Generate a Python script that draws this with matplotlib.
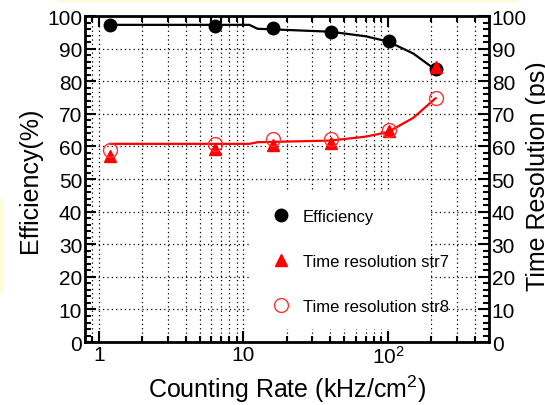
import numpy as np
import matplotlib
matplotlib.use("Agg")
import matplotlib.pyplot as plt
from matplotlib.patches import Rectangle
from matplotlib.ticker import FixedLocator, LogLocator, MultipleLocator, NullFormatter

plt.rcParams["font.family"] = ["Liberation Sans", "DejaVu Sans"]
plt.rcParams["mathtext.fontset"] = "custom"
plt.rcParams["mathtext.rm"] = "Liberation Sans"

# datas
rate = [1.2, 6.4, 15.9, 40.5, 102, 214]
eff = [97.2, 97.0, 96.2, 95.0, 92.2, 83.8]
tres7 = [57.0, 59.3, 60.6, 61.2, 64.6, 84.5]
tres8 = [58.8, 60.8, 62.2, 62.2, 65.0, 75.0]

# fitted curves
fit_x = [1.2, 11, 12.5, 40, 70, 100, 150, 214]
fit_eff = [97.3, 97.3, 96.1, 95.2, 93.8, 92.2, 88.5, 83.5]
fit_tres = [60.8, 60.8, 61.3, 61.8, 63.0, 64.4, 68.8, 74.8]

xtick_vals = [1, 10, 100]
xtick_labels = ["1", "10", "10$\\mathregular{^2}$"]

# create a figure
fig = plt.figure(figsize=(5.45, 4.06), dpi=100)
ax = fig.add_axes([0.156, 0.155, 0.741, 0.803])

# slide background bits
fig.patches.append(Rectangle((0.105, 0.992), 0.845, 0.01, transform=fig.transFigure,
                             facecolor="#fffbd8", edgecolor="none", zorder=0))
fig.patches.append(Rectangle((0.0, 0.273), 0.006, 0.235, transform=fig.transFigure,
                             facecolor="#fffbd8", edgecolor="none", zorder=0))

ax.set_xscale("log")
ax.set_xlim(0.8, 500)
ax.set_ylim(0, 100)

# scales
ax.xaxis.set_major_locator(FixedLocator(xtick_vals))
ax.set_xticklabels(xtick_labels)
ax.xaxis.set_minor_locator(LogLocator(base=10, subs=np.arange(2, 10)))
ax.xaxis.set_minor_formatter(NullFormatter())
ax.yaxis.set_major_locator(MultipleLocator(10))
ax.yaxis.set_minor_locator(MultipleLocator(2))
ax.tick_params(which="both", direction="in", top=True, right=True,
               labelright=True, labelsize=15, width=1.5, pad=2)
ax.tick_params(which="major", length=8)
ax.tick_params(which="minor", length=4)
for sp in ax.spines.values():
    sp.set_linewidth(2)

# grid lines
ax.set_axisbelow(True)
ax.grid(which="major", axis="both", color="black", linestyle=(0, (1, 2.5)), linewidth=0.9)
ax.grid(which="minor", axis="x", color="black", linestyle=(0, (1, 2.5)), linewidth=0.9)

# white box behind the legend
ax.add_patch(Rectangle((0.412, 0.04), 0.445, 0.42, transform=ax.transAxes,
                       facecolor="white", edgecolor="none", zorder=1))

# fitted lines
ax.plot(fit_x, fit_eff, color="black", linewidth=1.6, zorder=2)
ax.plot(fit_x, fit_tres, color="#ff0000", linewidth=1.6, zorder=2)

# plot datas
ax.plot(rate, eff, linestyle="none", marker="o", markersize=9,
        color="black", label="Efficiency", zorder=3)
ax.plot(rate, tres7, linestyle="none", marker="^", markersize=9,
        color="#ff0000", label="Time resolution str7", zorder=4)
ax.plot(rate, tres8, linestyle="none", marker="o", markersize=10,
        markerfacecolor="none", markeredgecolor="#ff3030", markeredgewidth=1.0,
        label="Time resolution str8", zorder=5)

# legend
ax.legend(loc="upper left", bbox_to_anchor=(0.448, 0.43), frameon=False,
          fontsize=12, handlelength=1.0, handletextpad=0.8, labelspacing=1.8,
          borderaxespad=0)

# titles
ax.set_xlabel("Counting Rate (kHz/cm$\\mathregular{^2}$)", fontsize=18, labelpad=4)
ax.set_ylabel("Efficiency(%)", fontsize=18, labelpad=4)
fig.text(0.988, 0.565, "Time Resolution (ps)", rotation=90, fontsize=18,
         ha="center", va="center")

fig.savefig("out.png", dpi=100)
